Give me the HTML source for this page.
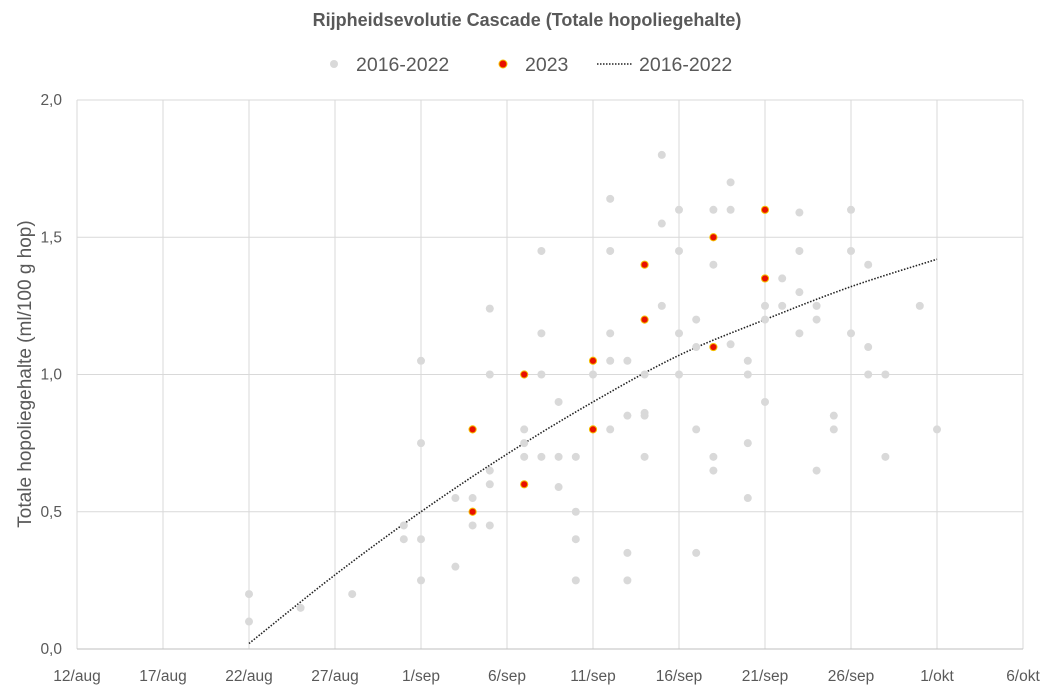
<!DOCTYPE html>
<html><head><meta charset="utf-8"><style>
body{margin:0;background:#fff;font-family:"Liberation Sans",sans-serif}
svg text{font-family:"Liberation Sans",sans-serif;fill:#595959}
</style></head><body>
<svg id="chart" width="1054" height="695">
<text x="527" y="26" text-anchor="middle" font-size="18" font-weight="bold">Rijpheidsevolutie Cascade (Totale hopoliegehalte)</text>
<g>
<g><circle cx="334" cy="64" r="4" fill="#d9d9d9"/><text x="356" y="71" font-size="19.5">2016-2022</text></g>
<g><circle cx="503" cy="64" r="4" fill="#e81000" stroke="#f5c000" stroke-width="1"/><text x="525" y="71" font-size="19.5">2023</text></g>
<g><line x1="597" y1="64" x2="632" y2="64" stroke="#222" stroke-width="1.5" stroke-dasharray="1.5,1.5"/><text x="639" y="71" font-size="19.5">2016-2022</text></g>
</g>
<text transform="translate(31,374) rotate(-90)" text-anchor="middle" font-size="19">Totale hopoliegehalte (ml/100 g hop)</text>
<g id="grid"></g>
<g id="axes"></g>
<g id="trend"></g>
<g id="pts"></g>
</svg>
<script>
const xTicks=["12/aug","17/aug","22/aug","27/aug","1/sep","6/sep","11/sep","16/sep","21/sep","26/sep","1/okt","6/okt"];
const yTicks=["0,0","0,5","1,0","1,5","2,0"];
const yTickValues=[0,0.5,1,1.5,2];
// days since 12/aug
const grayDays=[10,10,13,16,19,19,20,20,20,20,22,22,23,23,24,24,24,24,24,26,26,26,27,27,27,27,28,28,28,29,29,29,29,30,31,31,31,31,31,32,32,32,32,33,33,33,33,34,34,34,35,35,35,35,36,36,36,36,37,37,37,37,38,38,38,39,39,39,39,40,40,40,41,41,42,42,42,42,43,43,43,44,44,45,45,45,46,46,46,47,47,49,50];
const grayVals=[0.2,0.1,0.15,0.2,0.45,0.4,1.05,0.75,0.4,0.25,0.3,0.55,0.55,0.45,1.24,1.0,0.65,0.6,0.45,0.8,0.75,0.7,1.45,1.15,1.0,0.7,0.9,0.7,0.59,0.7,0.5,0.4,0.25,1.0,1.64,1.45,1.15,1.05,0.8,1.05,0.85,0.35,0.25,1.0,0.86,0.85,0.7,1.8,1.55,1.25,1.6,1.45,1.15,1.0,1.2,1.1,0.8,0.35,1.6,1.4,0.7,0.65,1.7,1.6,1.11,1.05,1.0,0.75,0.55,1.25,1.2,0.9,1.35,1.25,1.59,1.45,1.3,1.15,1.25,1.2,0.65,0.85,0.8,1.6,1.45,1.15,1.4,1.1,1.0,1.0,0.7,1.25,0.8];
const redDays=[23,23,26,26,30,30,33,33,37,37,40,40];
const redVals=[0.8,0.5,1.0,0.6,1.05,0.8,1.4,1.2,1.5,1.1,1.6,1.35];
const trendDays=[10,15,20,25,30,35,40,45,50];
const trendVals=[0.02,0.27,0.5,0.71,0.9,1.07,1.2,1.32,1.42];
const X0=77,X1=1023,Y0=649,Y1=100,DMAX=55,VMAX=2;
const xs=d=>X0+(X1-X0)*d/DMAX, ys=v=>Y0-(Y0-Y1)*v/VMAX;
const NS="http://www.w3.org/2000/svg";
function mk(tag,at,parent){const e=document.createElementNS(NS,tag);for(const k in at)e.setAttribute(k,at[k]);parent.appendChild(e);return e;}
const grid=document.getElementById('grid'),axes=document.getElementById('axes');
xTicks.forEach((t,i)=>{const x=xs(i*5);
 const l=mk('line',{x1:x,x2:x,y1:Y1,y2:Y0,stroke:'#d9d9d9'},grid);
 
 
 const tx=mk('text',{x:x,y:681,'text-anchor':'middle','font-size':'15.5'},axes);tx.textContent=t;
 
 });
yTickValues.forEach((v,i)=>{const y=ys(v);
 const l=mk('line',{x1:X0,x2:X1,y1:y,y2:y,stroke:i==0?'#bfbfbf':'#d9d9d9'},grid);
 
 
 const tx=mk('text',{x:62,y:y+5,'text-anchor':'end','font-size':'15.5'},axes);tx.textContent=yTicks[i];
 
 });
const tr=document.getElementById('trend');
const P=trendDays.map((d,i)=>[xs(d),ys(trendVals[i])]);
let dstr='M'+P[0][0]+','+P[0][1];
for(let i=0;i<P.length-1;i++){const p0=P[Math.max(0,i-1)],p1=P[i],p2=P[i+1],p3=P[Math.min(P.length-1,i+2)];
 const c1=[p1[0]+(p2[0]-p0[0])/6,p1[1]+(p2[1]-p0[1])/6],c2=[p2[0]-(p3[0]-p1[0])/6,p2[1]-(p3[1]-p1[1])/6];
 dstr+=' C'+c1[0]+','+c1[1]+' '+c2[0]+','+c2[1]+' '+p2[0]+','+p2[1];}
const p=mk('path',{d:dstr,fill:'none',stroke:'#222','stroke-width':'1.6','stroke-dasharray':'1.5,1.6'},tr);


const pts=document.getElementById('pts');
grayDays.forEach((d,i)=>{const c=mk('circle',{cx:xs(d),cy:ys(grayVals[i]),r:4,fill:'#d9d9d9'},pts);
 
 });
redDays.forEach((d,i)=>{const c=mk('circle',{cx:xs(d),cy:ys(redVals[i]),r:3.6,fill:'#e81000',stroke:'#f5c000','stroke-width':'1'},pts);
 
 });
</script>
</body></html>
